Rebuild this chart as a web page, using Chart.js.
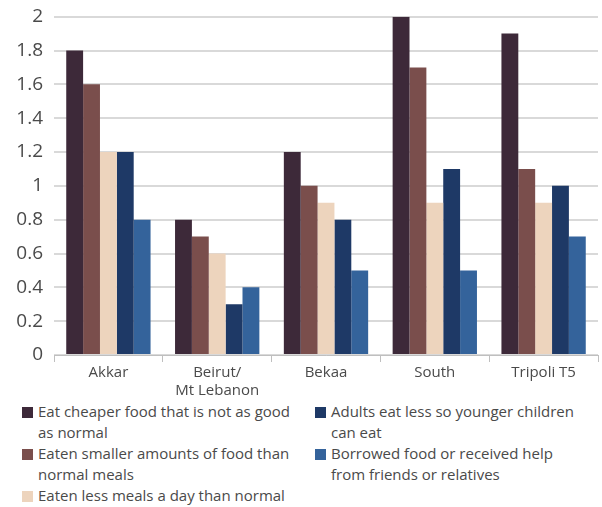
<!DOCTYPE html>
<html>
<head>
<meta charset="utf-8">
<script src="https://cdn.jsdelivr.net/npm/chart.js@4"></script>
<style>
  html, body { margin: 0; padding: 0; background: #fff; }
  body { width: 602px; height: 507px; overflow: hidden; font-family: "Open Sans", sans-serif; }
  #wrap { position: relative; width: 602px; height: 400px; }
  #legend { position: absolute; left: 22px; top: 401px; width: 580px; display: flex; color: #4a4a4a; font-size: 15px; line-height: 21px; }
  .col { display: flex; flex-direction: column; }
  .item { display: flex; align-items: flex-start; }
  .sw { width: 11px; height: 11px; margin-top: 6px; margin-right: 5px; flex: none; }
</style>
</head>
<body>
<div id="wrap"><canvas id="c" width="602" height="400"></canvas></div>
<div id="legend"></div>
<script>
const categories = [["Akkar"], ["Beirut/", "Mt Lebanon"], ["Bekaa"], ["South"], ["Tripoli T5"]];
const seriesNames = [
  "Eat cheaper food that is not as good as normal",
  "Eaten smaller amounts of food than normal meals",
  "Eaten less meals a day than normal",
  "Adults eat less so younger children can eat",
  "Borrowed food or received help from friends or relatives"
];
const cheaperFood   = [1.8, 0.8, 1.2, 2.0, 1.9];
const smallerAmount = [1.6, 0.7, 1.0, 1.7, 1.1];
const lessMeals     = [1.2, 0.6, 0.9, 0.9, 0.9];
const adultsEatLess = [1.2, 0.3, 0.8, 1.1, 1.0];
const borrowedFood  = [0.8, 0.4, 0.5, 0.5, 0.7];
const yTicks = [0, 0.2, 0.4, 0.6, 0.8, 1, 1.2, 1.4, 1.6, 1.8, 2];

const colors = ["#3d2939", "#7a4e4c", "#edd4bd", "#1e3966", "#34639b"];
const values = [cheaperFood, smallerAmount, lessMeals, adultsEatLess, borrowedFood];

const datasets = values.map((v, i) => ({
  label: seriesNames[i],
  data: v,
  backgroundColor: colors[i],
  borderWidth: 0,
  categoryPercentage: 0.775,
  barPercentage: 1.0
}));

new Chart(document.getElementById('c'), {
  type: 'bar',
  data: { labels: categories, datasets },
  options: {
    responsive: false,
    animation: false,
    layout: { padding: { top: 4, right: 4, left: 0, bottom: 0 } },
    plugins: { legend: { display: false }, tooltip: { enabled: false } },
    scales: {
      x: {
        grid: { display: true, offset: true, drawOnChartArea: false, drawTicks: true, tickLength: 7, color: '#bfbfbf', lineWidth: 1 },
        border: { display: true, color: '#bfbfbf', width: 1 },
        ticks: { color: '#4a4a4a', font: { family: 'Open Sans', size: 15 }, padding: 2, maxRotation: 0 },
        afterFit: (s) => { s.height = 45; }
      },
      y: {
        min: 0, max: 2,
        afterBuildTicks: (s) => { s.ticks = yTicks.map(v => ({ value: v })); },
        grid: { color: '#d9d9d9', lineWidth: 2, drawTicks: false },
        border: { display: false },
        ticks: { color: '#4a4a4a', font: { family: 'Open Sans', size: 19, lineHeight: 0.6 }, padding: 11,
                 callback: (v) => String(v) },
        afterFit: (s) => { s.width = 54; }
      }
    }
  }
});

// HTML legend built from the datasets (column-major, 3 + 2)
const legend = document.getElementById('legend');
const cols = [[0, 1, 2], [3, 4]];
const widths = [278, 262];
cols.forEach((idxs, ci) => {
  const col = document.createElement('div');
  col.className = 'col';
  col.style.width = widths[ci] + 'px';
  if (ci === 1) col.style.marginLeft = '15px';
  idxs.forEach(i => {
    const it = document.createElement('div');
    it.className = 'item';
    const sw = document.createElement('span');
    sw.className = 'sw';
    sw.style.background = colors[i];
    const tx = document.createElement('span');
    tx.textContent = seriesNames[i];
    it.appendChild(sw); it.appendChild(tx);
    col.appendChild(it);
  });
  legend.appendChild(col);
});
</script>
</body>
</html>
